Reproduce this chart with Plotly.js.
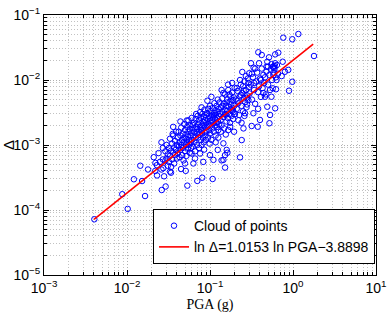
<!DOCTYPE html>
<html>
<head>
<meta charset="utf-8">
<script src="https://cdn.plot.ly/plotly-3.0.1.min.js"></script>
<style>html,body{margin:0;padding:0;background:#fff;}#chart{width:390px;height:313px;}</style>
</head>
<body>
<div id="chart"></div>
<script>
// ---- data ----
const pgaLowTail = [0.00404, 0.0102, 0.00877, 0.0165, 0.0121, 0.0152, 0.01445, 0.0179, 0.0219, 0.0262, 0.0292, 0.0339, 0.0448, 0.0533, 0.0229, 0.0703, 0.0806, 0.1077, 0.230, 0.152, 0.162, 0.0274, 0.051, 0.063, 0.083, 0.110, 0.138, 0.159, 0.124, 0.100, 0.076, 0.060, 0.0355, 0.0524, 0.062];
const deltaLowTail = [7.2e-5, 1.04e-4, 1.75e-4, 1.64e-4, 2.97e-4, 2.79e-4, 4.8e-4, 4.2e-4, 4.0e-4, 2.03e-4, 2.3e-4, 3.75e-4, 4.27e-4, 2.37e-4, 4.9e-4, 2.8e-4, 3.14e-4, 3.0e-4, 6.46e-4, 4.5e-4, 7.6e-4, 4.4e-4, 4.0e-4, 5.2e-4, 5.5e-4, 5.9e-4, 5.8e-4, 8.4e-4, 8.4e-4, 7.0e-4, 7.4e-4, 7.4e-4, 1.48e-3, 2.37e-3, 2.03e-3];

const pgaRight = [0.145, 0.152, 0.145, 0.166, 0.241, 0.253, 0.264, 0.318, 0.333, 0.376, 0.40, 0.52, 0.529, 0.61, 0.49, 0.46, 0.55, 0.57, 0.529, 0.624, 0.895, 0.98, 0.633, 0.73, 0.138];
const deltaRight = [1.06e-3, 7.0e-4, 5.9e-4, 1.7e-3, 1.19e-3, 1.8e-3, 3.08e-3, 1.96e-3, 3.08e-3, 1.91e-3, 2.43e-3, 2.16e-3, 2.9e-3, 3.67e-3, 3.88e-3, 5.53e-3, 5.53e-3, 7.45e-3, 7.02e-3, 7.2e-3, 6.84e-3, 9.4e-3, 1.0e-2, 1.15e-2, 7.02e-3];

const pgaUpper = [1.16, 0.98, 0.764, 1.79, 0.665, 0.61, 0.514, 0.382, 0.42, 0.312, 0.39, 0.49, 0.61, 0.751, 0.57, 0.245, 0.297, 0.877, 0.80, 0.335, 0.48, 0.58, 0.59, 0.60, 0.58];
const deltaUpper = [0.051, 0.0423, 0.0448, 0.0234, 0.0263, 0.0248, 0.0223, 0.0267, 0.0243, 0.0181, 0.0181, 0.0191, 0.0181, 0.0191, 0.016, 0.0133, 0.0127, 0.0143, 0.0134, 0.0155, 0.016, 0.0119, 0.0155, 0.0165, 0.016];

const pgaA = [0.021, 0.023, 0.024, 0.025, 0.026, 0.027, 0.027, 0.028, 0.022, 0.026];
const deltaA = [6.5e-4, 3.4e-4, 7.5e-4, 5.5e-4, 4.2e-4, 9.0e-4, 6.0e-4, 3.3e-4, 5.3e-4, 1.1e-3];

const pgaB = [0.029, 0.030, 0.030, 0.031, 0.031, 0.032, 0.032, 0.033, 0.033, 0.034, 0.034, 0.035, 0.035, 0.036, 0.036, 0.037, 0.037, 0.038, 0.038, 0.039, 0.039, 0.040, 0.040, 0.029, 0.033, 0.036];
const deltaB = [8.0e-4, 6.2e-4, 1.0e-3, 4.8e-4, 7.2e-4, 9.0e-4, 5.5e-4, 1.25e-3, 6.8e-4, 8.2e-4, 4.6e-4, 1.05e-3, 6.0e-4, 7.6e-4, 1.4e-3, 9.2e-4, 5.2e-4, 1.15e-3, 7.0e-4, 8.5e-4, 1.6e-3, 6.2e-4, 1.0e-3, 5.8e-4, 3.9e-4, 1.9e-3];

const pgaC = [0.041, 0.041, 0.042, 0.042, 0.043, 0.043, 0.044, 0.044, 0.045, 0.045, 0.046, 0.046, 0.047, 0.047, 0.048, 0.048, 0.049, 0.049, 0.050, 0.050, 0.051, 0.051, 0.052, 0.052, 0.053, 0.053, 0.054, 0.054, 0.055, 0.055, 0.056, 0.056, 0.057, 0.057, 0.058, 0.058, 0.059, 0.059, 0.060, 0.060, 0.044, 0.050];
const deltaC = [1.3e-3, 7.5e-4, 9.5e-4, 1.6e-3, 6.5e-4, 1.1e-3, 1.4e-3, 8.4e-4, 1.0e-3, 1.85e-3, 7.0e-4, 1.2e-3, 1.5e-3, 9.0e-4, 1.1e-3, 5.8e-4, 1.3e-3, 2.1e-3, 8.0e-4, 1.7e-3, 1.0e-3, 1.25e-3, 1.45e-3, 6.8e-4, 1.9e-3, 1.1e-3, 8.8e-4, 1.35e-3, 1.6e-3, 2.4e-3, 1.0e-3, 1.2e-3, 7.6e-4, 1.75e-3, 1.4e-3, 2.0e-3, 1.1e-3, 9.0e-4, 1.55e-3, 2.6e-3, 2.3e-3, 5.2e-4];

const pgaD = [0.061, 0.062, 0.063, 0.063, 0.064, 0.065, 0.065, 0.066, 0.067, 0.067, 0.068, 0.069, 0.070, 0.070, 0.071, 0.072, 0.072, 0.073, 0.074, 0.074, 0.075, 0.076, 0.076, 0.077, 0.078, 0.078, 0.079, 0.080, 0.080, 0.081, 0.082, 0.082, 0.083, 0.084, 0.084, 0.085, 0.086, 0.086, 0.087, 0.088, 0.088, 0.089, 0.089, 0.068, 0.079, 0.085, 0.066];
const deltaD = [1.2e-3, 9.5e-4, 1.8e-3, 1.4e-3, 2.2e-3, 1.1e-3, 1.6e-3, 8.0e-4, 1.3e-3, 2.5e-3, 1.9e-3, 1.5e-3, 1.0e-3, 1.75e-3, 2.8e-3, 1.3e-3, 2.1e-3, 1.6e-3, 9.0e-4, 2.4e-3, 1.45e-3, 1.9e-3, 3.2e-3, 1.2e-3, 1.7e-3, 2.6e-3, 1.0e-3, 2.0e-3, 1.5e-3, 3.0e-3, 1.3e-3, 2.3e-3, 1.8e-3, 2.7e-3, 1.1e-3, 2.0e-3, 1.6e-3, 3.5e-3, 2.4e-3, 1.4e-3, 1.9e-3, 2.9e-3, 1.2e-3, 3.0e-3, 3.8e-3, 8.5e-4, 6.2e-4];

const pgaE = [0.090, 0.091, 0.092, 0.093, 0.094, 0.095, 0.095, 0.096, 0.097, 0.098, 0.099, 0.100, 0.100, 0.101, 0.102, 0.103, 0.104, 0.105, 0.106, 0.107, 0.108, 0.109, 0.110, 0.111, 0.112, 0.113, 0.114, 0.115, 0.116, 0.117, 0.118, 0.119, 0.120, 0.121, 0.122, 0.123, 0.124, 0.125, 0.126, 0.127, 0.128, 0.129, 0.130, 0.093, 0.104, 0.117, 0.099, 0.126];
const deltaE = [2.2e-3, 1.6e-3, 3.1e-3, 1.9e-3, 2.5e-3, 1.3e-3, 3.6e-3, 2.0e-3, 2.8e-3, 1.7e-3, 2.3e-3, 4.0e-3, 1.5e-3, 2.6e-3, 2.0e-3, 3.3e-3, 1.2e-3, 2.4e-3, 2.9e-3, 1.8e-3, 3.7e-3, 2.2e-3, 2.7e-3, 1.6e-3, 3.1e-3, 4.4e-3, 2.0e-3, 2.5e-3, 3.4e-3, 1.4e-3, 2.9e-3, 2.2e-3, 4.0e-3, 1.9e-3, 2.6e-3, 3.2e-3, 5.0e-3, 2.3e-3, 1.7e-3, 3.6e-3, 2.8e-3, 2.1e-3, 4.5e-3, 4.8e-3, 5.5e-3, 1.1e-3, 1.05e-3, 1.3e-3];

const pgaF = [0.132, 0.134, 0.136, 0.138, 0.140, 0.142, 0.144, 0.146, 0.148, 0.150, 0.152, 0.154, 0.156, 0.158, 0.160, 0.162, 0.164, 0.166, 0.168, 0.170, 0.172, 0.174, 0.176, 0.178, 0.180, 0.182, 0.184, 0.186, 0.188, 0.190, 0.192, 0.194, 0.196, 0.198, 0.200, 0.135, 0.145, 0.155, 0.165, 0.175, 0.185, 0.195, 0.141, 0.159, 0.171, 0.189, 0.153];
const deltaF = [3.0e-3, 2.4e-3, 3.8e-3, 2.0e-3, 5.2e-3, 3.2e-3, 2.7e-3, 4.3e-3, 1.8e-3, 3.5e-3, 6.0e-3, 2.9e-3, 4.0e-3, 2.3e-3, 3.3e-3, 5.0e-3, 2.6e-3, 7.0e-3, 3.9e-3, 3.0e-3, 4.6e-3, 2.2e-3, 5.6e-3, 3.5e-3, 4.2e-3, 2.8e-3, 6.4e-3, 3.7e-3, 4.9e-3, 2.5e-3, 3.2e-3, 5.4e-3, 4.0e-3, 7.6e-3, 3.0e-3, 1.6e-3, 6.3e-3, 1.45e-3, 8.5e-3, 1.9e-3, 9.0e-3, 1.6e-3, 4.0e-3, 4.5e-3, 6.0e-3, 3.4e-3, 3.0e-3];

const pgaG = [0.205, 0.21, 0.215, 0.22, 0.225, 0.23, 0.235, 0.24, 0.245, 0.25, 0.255, 0.26, 0.265, 0.27, 0.275, 0.28, 0.285, 0.29, 0.295, 0.30, 0.21, 0.22, 0.23, 0.24, 0.25, 0.26, 0.27, 0.28, 0.29, 0.215, 0.235, 0.255, 0.275];
const deltaG = [5.0e-3, 3.6e-3, 6.8e-3, 4.4e-3, 2.9e-3, 5.6e-3, 8.5e-3, 4.0e-3, 6.3e-3, 3.3e-3, 5.2e-3, 9.5e-3, 4.6e-3, 7.0e-3, 3.8e-3, 5.8e-3, 1.05e-2, 4.9e-3, 7.8e-3, 6.2e-3, 7.5e-3, 2.4e-3, 1.0e-2, 2.2e-3, 8.0e-3, 2.8e-3, 1.15e-2, 4.2e-3, 9.0e-3, 4.8e-3, 5.9e-3, 6.9e-3, 5.3e-3];

const pgaH = [0.31, 0.32, 0.33, 0.34, 0.35, 0.36, 0.37, 0.38, 0.39, 0.40, 0.41, 0.42, 0.43, 0.44, 0.45, 0.32, 0.35, 0.38, 0.41, 0.34, 0.44];
const deltaH = [8.5e-3, 5.0e-3, 1.1e-2, 7.0e-3, 4.3e-3, 9.5e-3, 1.3e-2, 6.5e-3, 8.0e-3, 1.05e-2, 5.5e-3, 1.5e-2, 7.5e-3, 1.2e-2, 9.0e-3, 1.25e-2, 1.5e-2, 3.6e-3, 1.0e-2, 9.0e-3, 6.3e-3];

const pgaI = [0.46, 0.48, 0.50, 0.52, 0.54, 0.56, 0.58, 0.60, 0.62, 0.64, 0.66, 0.50, 0.47, 0.55];
const deltaI = [1.1e-2, 1.35e-2, 8.5e-3, 1.2e-2, 1.45e-2, 1.0e-2, 1.3e-2, 1.5e-2, 1.1e-2, 1.7e-2, 1.25e-2, 1.6e-2, 6.0e-3, 1.75e-2];

// fitted line end points
const fitPGA = [0.004, 1.75];
const fitDelta = [7.2e-5, 3.55e-2];

// tick labels
const xTickVals = [0.001, 0.01, 0.1, 1, 10];
const xTickText = ['10<sup>\u22123</sup>', '10<sup>\u22122</sup>', '10<sup>\u22121</sup>', '10<sup>0</sup>', '10<sup>1</sup>'];
const yTickVals = [1e-5, 1e-4, 1e-3, 1e-2, 1e-1];
const yTickText = ['10<sup>\u22125</sup>', '10<sup>\u22124</sup>', '10<sup>\u22123</sup>', '10<sup>\u22122</sup>', '10<sup>\u22121</sup>'];

const cloudName = 'Cloud of points';
const fitName = 'ln \u0394=1.0153 ln PGA\u22123.8898';

// ---- build ----
const pga = [].concat(pgaLowTail, pgaRight, pgaUpper, pgaA, pgaB, pgaC, pgaD, pgaE, pgaF, pgaG, pgaH, pgaI);
const delta = [].concat(deltaLowTail, deltaRight, deltaUpper, deltaA, deltaB, deltaC, deltaD, deltaE, deltaF, deltaG, deltaH, deltaI);

function minorVals(e0, e1) {
  const out = [];
  for (let e = e0; e < e1; e++) {
    for (let d = 2; d <= 9; d++) out.push(d * Math.pow(10, e));
  }
  return out;
}

const gridCol = '#b0b0b0';
const minorGridCol = '#c2c2c2';
const gridDash = '1px,2px';
const fontFam = 'Liberation Sans, Arial, Helvetica, sans-serif';

function axisBase(tv, tt, minor) {
  return {
    type: 'log',
    tickmode: 'array', tickvals: tv, ticktext: tt,
    ticks: 'inside', ticklen: 5, tickwidth: 1, tickcolor: '#000',
    showline: true, linecolor: '#000', linewidth: 1, mirror: 'ticks',
    showgrid: true, gridcolor: gridCol, griddash: gridDash, gridwidth: 1,
    zeroline: false,
    tickfont: {family: fontFam, size: 14, color: '#000'},
    minor: {tickmode: 'array', tickvals: minor, ticks: 'inside', ticklen: 3, tickwidth: 1, tickcolor: '#000',
            showgrid: true, gridcolor: minorGridCol, griddash: gridDash, gridwidth: 1}
  };
}

const xaxis = axisBase(xTickVals, xTickText, minorVals(-3, 1));
xaxis.range = [-3, 1];
xaxis.title = {text: 'PGA (g)', font: {family: 'Liberation Serif, Times New Roman, serif', size: 14, color: '#000'}, standoff: 4};

const yaxis = axisBase(yTickVals, yTickText, minorVals(-5, -1));
yaxis.range = [-5, -1];
yaxis.title = {text: '\u0394', font: {family: fontFam, size: 15, color: '#000'}, standoff: 0};

const data = [
  {x: pga, y: delta, type: 'scatter', mode: 'markers', name: cloudName,
   marker: {symbol: 'circle-open', size: 5.5, color: '#0000ff', line: {width: 1, color: '#0000ff'}}},
  {x: fitPGA, y: fitDelta, type: 'scatter', mode: 'lines', name: fitName,
   line: {color: '#ff0000', width: 1.6}}
];

const layout = {
  width: 390, height: 313,
  margin: {l: 44, r: 14, t: 15, b: 38, pad: 0},
  paper_bgcolor: '#fff', plot_bgcolor: '#fff',
  font: {family: fontFam, size: 14, color: '#000'},
  xaxis: xaxis, yaxis: yaxis,
  showlegend: true,
  legend: {x: 0.997, xanchor: 'right', y: 0.042, yanchor: 'bottom',
           bgcolor: '#fff', bordercolor: '#000', borderwidth: 1,
           font: {family: fontFam, size: 14, color: '#000'}, itemwidth: 30, tracegroupgap: 0}
};

Plotly.newPlot('chart', data, layout, {staticPlot: true, displayModeBar: false});
</script>
</body>
</html>
